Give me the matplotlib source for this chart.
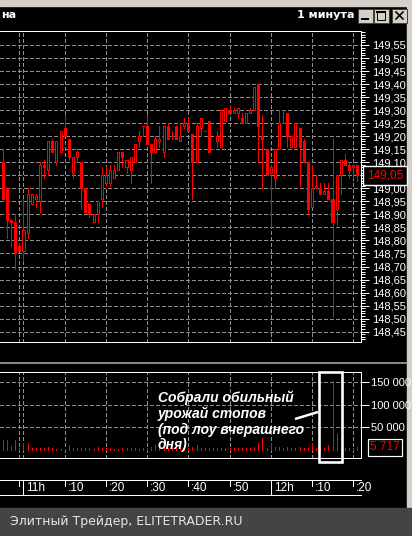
import numpy as np
import matplotlib.pyplot as plt
from matplotlib.ticker import MultipleLocator, FuncFormatter, FixedLocator
from matplotlib.patches import Rectangle

plt.rcParams['lines.scale_dashes'] = False
plt.rcParams['font.family'] = ['Liberation Sans', 'DejaVu Sans']

W, H = 412, 536
PX = 0.72          # один пиксель в пунктах
RED = '#ff0000'
GRID = '#8c8c8c'
DASH = (0, (2.2, 1.5))

# минутные свечи 10:55 ... 12:21
opens = [149.10, 149.00, 148.88, 148.87, 148.78, 148.76, 148.83, 148.94, 148.96, 148.95,
         149.09, 149.07, 149.18, 149.10, 149.14, 149.23, 149.19, 149.06, 149.12, 149.10,
         149.00, 148.94, 148.87, 148.90, 148.96, 149.02, 149.02, 149.04, 149.07, 149.14,
         149.08, 149.07, 149.10, 149.18, 149.24, 149.24, 149.17, 149.14, 149.18, 149.14,
         149.24, 149.20, 149.24, 149.18, 149.24, 149.25, 149.21, 149.10, 149.23, 149.22,
         149.26, 149.15, 149.18, 149.16, 149.26, 149.30, 149.29, 149.29, 149.27, 149.25,
         149.29, 149.30, 149.40, 149.20, 149.15, 149.06, 149.04, 149.15, 149.25, 149.29,
         149.16, 149.16, 149.23, 149.18, 149.10, 148.93, 149.00, 149.00, 148.98, 148.99,
         148.96, 148.92, 149.05, 149.11, 149.09, 149.08, 149.09]
highs = [149.15, 149.00, 148.88, 148.90, 148.79, 148.96, 149.00, 148.98, 148.98, 149.10,
         149.11, 149.18, 149.19, 149.18, 149.22, 149.28, 149.19, 149.12, 149.15, 149.10,
         149.00, 148.94, 148.90, 148.95, 149.08, 149.08, 149.09, 149.09, 149.14, 149.14,
         149.11, 149.12, 149.17, 149.22, 149.24, 149.28, 149.17, 149.20, 149.24, 149.24,
         149.25, 149.22, 149.24, 149.25, 149.27, 149.27, 149.21, 149.25, 149.27, 149.22,
         149.26, 149.15, 149.22, 149.30, 149.31, 149.32, 149.31, 149.31, 149.29, 149.29,
         149.31, 149.39, 149.40, 149.28, 149.15, 149.09, 149.15, 149.30, 149.30, 149.29,
         149.20, 149.25, 149.23, 149.19, 149.10, 149.09, 149.05, 149.02, 149.02, 149.02,
         149.19, 149.05, 149.11, 149.13, 149.10, 149.09, 149.09]
lows = [148.96, 148.81, 148.78, 148.69, 148.76, 148.72, 148.81, 148.94, 148.93, 148.91,
        149.04, 149.05, 149.14, 149.09, 149.14, 149.20, 149.11, 149.04, 149.10, 148.92,
        148.91, 148.89, 148.87, 148.87, 148.93, 149.01, 149.01, 149.04, 149.07, 149.08,
        149.06, 149.02, 149.10, 149.16, 149.20, 149.17, 149.02, 149.14, 149.16, 149.12,
        149.19, 149.19, 149.19, 149.18, 149.23, 149.22, 148.96, 149.10, 149.20, 149.22,
        149.14, 149.15, 149.16, 149.16, 149.26, 149.29, 149.29, 149.27, 149.25, 149.25,
        149.29, 149.30, 149.10, 149.00, 149.05, 148.85, 149.00, 149.15, 149.25, 149.16,
        149.16, 149.16, 149.01, 149.10, 148.90, 148.93, 149.00, 148.98, 148.98, 148.96,
        148.51, 148.86, 148.98, 149.09, 149.04, 149.04, 149.03]
closes = [148.96, 148.88, 148.87, 148.75, 148.76, 148.84, 148.98, 148.98, 148.97, 149.09,
          149.08, 149.18, 149.14, 149.18, 149.22, 149.20, 149.12, 149.12, 149.14, 149.00,
          148.91, 148.90, 148.90, 148.95, 149.05, 149.05, 149.07, 149.07, 149.14, 149.12,
          149.11, 149.12, 149.17, 149.20, 149.24, 149.17, 149.14, 149.19, 149.19, 149.24,
          149.19, 149.20, 149.19, 149.20, 149.25, 149.22, 149.10, 149.24, 149.27, 149.22,
          149.14, 149.15, 149.20, 149.30, 149.31, 149.29, 149.30, 149.31, 149.25, 149.29,
          149.30, 149.39, 149.24, 149.19, 149.05, 149.08, 149.15, 149.25, 149.25, 149.20,
          149.20, 149.25, 149.16, 149.10, 148.92, 149.00, 149.01, 148.98, 148.99, 148.96,
          148.87, 149.05, 149.11, 149.09, 149.07, 149.09, 149.05]
volumes = [22000, 22000, 9000, 23000, 4000, 16000, 16000, 4000, 4000, 5000,
           4000, 7000, 4000, 3000, 3000, 3000, 10000, 4000, 4000, 5000,
           4000, 4000, 3000, 7000, 4000, 4000, 4000, 3000, 3000, 4000,
           4000, 4000, 4000, 3000, 4000, 4000, 7000, 10000, 5000, 5000,
           4000, 4000, 4000, 4000, 4000, 5000, 7000, 12000, 5000, 4000,
           4000, 5000, 4000, 4000, 5000, 4000, 4000, 4000, 5000, 4000,
           4000, 7000, 16000, 27000, 5000, 16000, 7000, 6000, 5000, 6000,
           4000, 5000, 7000, 4000, 5000, 16000, 5000, 7000, 5000, 10000,
           152000, 35000, 3000, 5000, 5000, 5000, 5717]

price_ticks = np.round(np.arange(148.45, 149.551, 0.05), 2)
volume_ticks = [50000, 100000, 150000]
time_ticks = [0, 10, 20, 30, 40, 50, 60, 70, 80]
time_labels = ['11h', ':10', ':20', ':30', ':40', ':50', '12h', ':10', ':20']

opens, highs, lows, closes = map(np.array, (opens, highs, lows, closes))
t = np.arange(len(opens)) - 5          # минуты от 11:00

fig = plt.figure(figsize=(W / 100, H / 100), dpi=100)


def px_axes(x0, y0, x1, y1):
    return fig.add_axes([x0 / W, 1 - y1 / H, (x1 - x0) / W, (y1 - y0) / H])


def comma(v, p=None):
    return f'{v:.2f}'.replace('.', ',')


# --- рамка окна ---
bg = px_axes(0, 0, W, H)
bg.set_xlim(0, W)
bg.set_ylim(H, 0)
bg.axis('off')
bg.add_patch(Rectangle((0, 0), W, H, color='black'))
bg.add_patch(Rectangle((0, 0), W, 6, color='#d4d0c8'))
bg.add_patch(Rectangle((407, 0), 5, 508, color='#d4d0c8'))
grad = np.linspace(0, 1, 256).reshape(1, -1)
bg.imshow(np.dstack([0.25 + 0.40 * grad, 0.37 + 0.40 * grad, 0.62 + 0.31 * grad]),
          extent=[0, 407, 24, 6], aspect='auto', interpolation='bilinear')
bg.text(1, 15.5, 'на', color='white', fontsize=8, fontweight='bold',
        family='DejaVu Sans', ha='left', va='center')
bg.text(355, 15.5, '1 минута', color='white', fontsize=8, fontweight='bold',
        family='DejaVu Sans', ha='right', va='center')
for bx in [358, 374, 392]:
    bg.add_patch(Rectangle((bx, 8.5), 15, 14, fc='#d4d0c8', ec='#404040', lw=PX))
bg.plot([362, 368], [19, 19], color='black', lw=2 * PX)
bg.add_patch(Rectangle((377.5, 11.5), 8, 8, fill=False, ec='black', lw=PX))
bg.plot([377.5, 385.5], [12, 12], color='black', lw=2 * PX)
bg.plot([396, 403], [12, 19], color='black', lw=1.6 * PX)
bg.plot([396, 403], [19, 12], color='black', lw=1.6 * PX)
bg.plot([0, 407], [363, 363], color='#b4b4b4', lw=1.5 * PX)
bg.add_patch(Rectangle((0, 508), W, 28, color='#444444'))
bg.text(10, 522, 'Элитный Трейдер, ELITETRADER.RU', color='#e6e6e6', fontsize=9,
        family='DejaVu Sans', va='center')

xlim = (-23.5 / 4.12, (361 - 23.5) / 4.12)
vgrid = [-1] + time_ticks


def frame(a):
    a.set_facecolor('black')
    a.set_xlim(*xlim)
    a.set_axisbelow(True)
    a.set_xticks([])
    a.yaxis.tick_right()
    a.spines['left'].set_visible(False)
    for s in ['top', 'right', 'bottom']:
        a.spines[s].set_color('white')
        a.spines[s].set_linewidth(PX)
    a.grid(axis='y', color=GRID, linestyle=DASH, linewidth=PX, antialiased=False)
    for m in vgrid:
        a.axvline(m, color=GRID, linestyle=DASH, linewidth=PX, zorder=1, antialiased=False)


# --- цена ---
ax = px_axes(0, 31, 361, 342)
ax.set_ylim(148.4104, 149.6037)
ax.yaxis.set_major_locator(FixedLocator(price_ticks))
ax.yaxis.set_minor_locator(MultipleLocator(0.01))
frame(ax)
up = closes > opens
ax.vlines(t, lows, highs, color=RED, lw=PX, zorder=3, antialiased=False)
ax.bar(t, np.abs(closes - opens), bottom=np.minimum(opens, closes), width=0.5,
       color=np.where(up, 'black', RED), edgecolor=RED, linewidth=PX, zorder=4,
       antialiased=False)
last = closes[-1]
ax.yaxis.set_major_formatter(FuncFormatter(
    lambda v, p: '' if abs(v - last) < 0.001 else comma(v)))
ax.tick_params(axis='y', which='major', length=6, width=PX, colors='white',
               labelsize=8, pad=2)
ax.tick_params(axis='y', which='minor', length=3, width=PX, colors='white')
ax.annotate(comma(last), xy=(1, last),
            xycoords=('axes fraction', 'data'), xytext=(6, 0), textcoords='offset pixels',
            color=RED, fontsize=8.5, ha='left', va='center', annotation_clip=False,
            bbox=dict(boxstyle='square,pad=0.3', fc='black', ec='white', lw=1.4 * PX))

# --- объём ---
vx = px_axes(0, 372, 361, 458)
vx.set_ylim(-17600, 171800)
vx.yaxis.set_major_locator(FixedLocator(volume_ticks))
frame(vx)
vx.vlines(t, 0, volumes, color=RED, lw=PX, zorder=3, antialiased=False)
vx.yaxis.set_major_formatter(FuncFormatter(lambda v, p: f'{int(v):,}'.replace(',', ' ')))
vx.tick_params(axis='y', length=6, width=PX, colors='white', labelsize=8, pad=1.5)
vx.annotate(f'{volumes[-1]:,}'.replace(',', ' '), xy=(1, volumes[-1]),
            xycoords=('axes fraction', 'data'), xytext=(9, 0), textcoords='offset pixels',
            color=RED, fontsize=8.5, ha='left', va='center', annotation_clip=False,
            bbox=dict(boxstyle='square,pad=0.2', fc='black', ec='white', lw=1.2 * PX))

# --- шкала времени ---
tx = px_axes(0, 480, 361, 495)
tx.set_facecolor('black')
tx.set_xlim(*xlim)
tx.set_ylim(0, 1)
tx.set_xticks([])
tx.set_yticks([])
for s in ['left', 'right']:
    tx.spines[s].set_visible(False)
for s in ['top', 'bottom']:
    tx.spines[s].set_color('white')
    tx.spines[s].set_linewidth(PX)
for m, lab in zip(time_ticks, time_labels):
    tx.vlines(m, 0 if lab.endswith('h') else 0.62, 1, color='white', lw=PX,
              antialiased=False)
    tx.text(m + 0.7, 0.45, lab, color='white', fontsize=8.5, ha='left', va='center')
tx.vlines(-1, 0.62, 1, color='white', lw=PX, antialiased=False)

# --- подпись ---
ov = px_axes(0, 0, W, H)
ov.set_xlim(0, W)
ov.set_ylim(H, 0)
ov.axis('off')
ov.add_patch(Rectangle((319.5, 371.5), 22.5, 90.5, fill=False, ec='white', lw=2.6 * PX))
ov.plot([295, 318], [419, 412], color='white', lw=2.5 * PX, solid_capstyle='butt')
ov.text(158, 390, 'Собрали обильный\nурожай стопов\n(под лоу вчерашнего\nдня)',
        color='white', fontsize=10, fontweight='bold', fontstyle='italic',
        ha='left', va='top', linespacing=1.15)

fig.savefig('out.png', dpi=100, facecolor='black')
